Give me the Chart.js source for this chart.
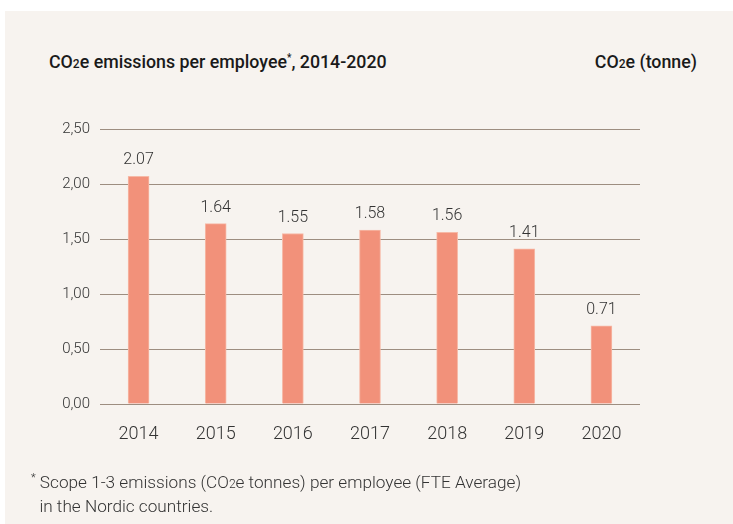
<!DOCTYPE html>
<html>
    <head>
        <title>CO2e emissions per employee</title>
        <style>
            body { margin: 0; background: #ffffff; font-family: Roboto, sans-serif; }
            #panel {
                position: absolute; left: 5px; top: 11px;
                width: 728px; height: 513px;
                background: #f7f3ef;
            }
            #chartBox { position: absolute; left: 0; top: 0; width: 733px; height: 524px; }
            .title { position: absolute; top: 51px; font-size: 17.8px; font-weight: 500; color: #1a1a1a; }
            .title sub { font-size: 12px; vertical-align: baseline; }
            .note { position: absolute; left: 31px; top: 467px; font-size: 17.2px; color: #333; line-height: 22px; font-weight: 300; }
            .note sub { font-size: 12px; vertical-align: baseline; }
            .note sup { font-size: 11px; }
        </style>
        <script src="https://cdn.jsdelivr.net/npm/chart.js"></script>
    </head>
<body>
    <div id="panel"></div>
    <div class="title" style="left:49px">CO<sub>2</sub>e emissions per employee<sup style="font-size:10px">*</sup>, 2014-2020</div>
    <div class="title" style="right:36px">CO<sub>2</sub>e (tonne)</div>
    <div id="chartBox"><canvas id="co2Chart" width="733" height="524"></canvas></div>
    <div class="note"><sup>*</sup> Scope 1-3 emissions (CO<sub>2</sub>e tonnes) per employee (FTE Average)<br>&nbsp;&nbsp;in the Nordic countries.</div>

    <script>
        const years = ["2014", "2015", "2016", "2017", "2018", "2019", "2020"];
        const emissions = [2.07, 1.64, 1.55, 1.58, 1.56, 1.41, 0.71];
        const yTicks = [0, 0.5, 1, 1.5, 2, 2.5];

        // value labels above each bar
        const barLabels = {
            id: "barLabels",
            afterDatasetsDraw(chart) {
                const ctx = chart.ctx;
                const meta = chart.getDatasetMeta(0);
                ctx.save();
                ctx.font = "300 16px Roboto";
                ctx.fillStyle = "#333333";
                ctx.textAlign = "center";
                ctx.textBaseline = "alphabetic";
                meta.data.forEach((bar, i) => {
                    ctx.fillText(emissions[i].toFixed(2), bar.x, bar.y - 12);
                });
                ctx.restore();
            }
        };

        let ctx = document.getElementById("co2Chart").getContext("2d");

        let chart = new Chart(ctx, {
            type: "bar",
            data: {
                labels: years,
                datasets: [{
                    data: emissions,
                    backgroundColor: "#f2917a",
                    borderColor: "#f6b9a6",
                    borderWidth: 1,
                    barThickness: 21
                }]
            },
            options: {
                responsive: false,
                animation: false,
                layout: { padding: { left: 0, top: 129, right: 93, bottom: 80 } },
                plugins: { legend: { display: false }, tooltip: { enabled: false } },
                scales: {
                    x: {
                        grid: { display: false },
                        border: { display: false },
                        ticks: { color: "#333333", font: { family: "Roboto", size: 18, weight: 300 }, padding: 12 },
                        afterFit(scale) { scale.height = 40; }
                    },
                    y: {
                        min: 0,
                        max: 2.5,
                        afterBuildTicks(scale) { scale.ticks = yTicks.map(v => ({ value: v })); },
                        grid: { color: "#9d8d80", drawTicks: false, lineWidth: 1 },
                        border: { display: false },
                        ticks: {
                            color: "#333333",
                            font: { family: "Roboto", size: 15, weight: 300 },
                            padding: 10,
                            callback: v => v.toFixed(2).replace(".", ",")
                        },
                        afterFit(scale) { scale.width = 100; }
                    }
                }
            },
            plugins: [barLabels]
        });
    </script>
</body>
</html>
